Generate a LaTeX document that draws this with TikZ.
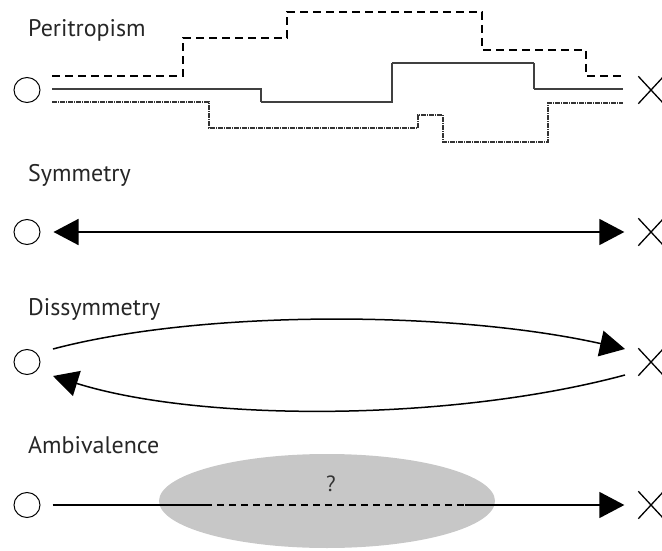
\documentclass[tikz,border=0pt]{standalone}
\usepackage{fontspec}
\setmainfont{PT Sans}
\usetikzlibrary{arrows.meta,shapes.geometric,shapes.misc,calc}
\begin{document}
\begin{tikzpicture}[x=1pt,y=-1pt,
  lbl/.style={anchor=base west,inner sep=0pt,font=\fontsize{24}{28}\selectfont,text=black!85},
  onode/.style={ellipse,draw,line width=1pt,minimum width=26pt,minimum height=25pt,inner sep=0pt},
  xnode/.style={cross out,draw,line width=1.3pt,minimum width=24pt,minimum height=26pt,inner sep=0pt},
  bigtip/.style={-{Triangle[length=25pt,width=26pt]}},
  conn/.style={line width=1.5pt},
  l1/.style={line width=1.1pt,dash pattern=on 8pt off 5pt},
  l2/.style={line width=1.1pt,dash pattern=on 1.5pt off 0.5pt,black!75},
  l3/.style={line width=1.1pt,dash pattern=on 5pt off 1pt on 1pt off 1pt,black!80}]
\useasboundingbox (0,0) rectangle (662,551);

% Peritropism
\node[lbl] (t1) at (28,37) {Peritropism};
\node[onode] (o1) at (27,90) {};
\node[xnode] (x1) at (651,90) {};
\draw[l1] (52,76) -- (183,76) -- (183,38) -- (287,38) -- (287,12) -- (482,12) -- (482,50) -- (586,50) -- (586,76) -- (625,76);
\draw[l2] (52,89) -- (261,89) -- (261,102) -- (392,102) -- (392,63) -- (534,63) -- (534,89) -- (623,89);
\draw[l3] (52,102) -- (209,102) -- (209,128) -- (418,128) -- (418,115) -- (443,115) -- (443,142) -- (548,142) -- (548,103) -- (623,103);

% Symmetry
\node[lbl] (t2) at (28,181) {Symmetry};
\node[onode] (o2) at (27,232) {};
\node[xnode] (x2) at (651,232) {};
\draw[conn,{Triangle[length=25pt,width=26pt]}-{Triangle[length=25pt,width=26pt]},shorten <=13pt,shorten >=14pt] (o2) -- (x2);

% Dissymmetry
\node[lbl] (t3) at (28,315) {Dissymmetry};
\node[onode] (o3) at (27,362) {};
\node[xnode] (x3) at (651,362) {};
\coordinate (a1) at (53,349);
\coordinate (a2) at (625,349);
\coordinate (b1) at (625,375);
\coordinate (b2) at (53,376);
\draw[conn,bigtip] (a1) .. controls (200,310) and (450,310) .. (a2);
\draw[conn,bigtip] (b1) .. controls (450,422) and (200,422) .. (b2);

% Ambivalence
\node[lbl] (t4) at (28,453) {Ambivalence};
\node[ellipse,fill=black!22,minimum width=336pt,minimum height=94pt,inner sep=0pt] (cl) at (327,501) {};
\node[inner sep=0pt,font=\fontsize{22}{26}\selectfont,text=black!80] (q) at (331,484) {?};
\node[onode] (o4) at (27,505) {};
\node[xnode] (x4) at (651,505) {};
\coordinate (d1) at (205,505);
\coordinate (d2) at (465,505);
\draw[conn,shorten <=12pt] (o4) -- (d1);
\draw[conn,dash pattern=on 7pt off 5pt] (d1) -- (d2);
\draw[conn,bigtip,shorten >=14pt] (d2) -- (x4);
\end{tikzpicture}
\end{document}
